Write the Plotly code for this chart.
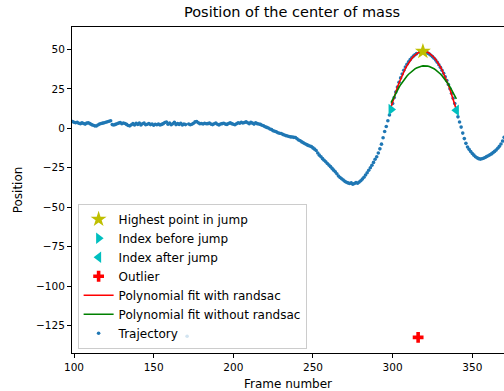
import numpy as np
import plotly.graph_objects as go

# ---- data -------------------------------------------------------------
frames = list(range(99, 371))
positions = [
    # 99-108
    4.4, 3.9, 3.6, 3.8, 3.2, 3.0, 3.5, 3.1, 2.7, 3.3,
    # 109-118
    3.6, 3.0, 2.4, 2.0, 1.6, 1.5, 2.1, 2.7, 3.1, 3.3,
    # 119-128
    3.6, 3.9, 4.2, 4.5, 4.8, 2.4, 2.1, 2.5, 2.9, 3.3,
    # 129-138
    3.7, 3.0, 3.4, 3.1, 2.5, 1.8, 1.6, 2.3, 3.0, 2.2,
    # 139-148
    3.2, 2.5, 3.4, 2.2, 2.9, 3.3, 2.3, 2.6, 3.1, 2.4,
    # 149-158
    2.8, 2.0, 2.6, 2.3, 2.7, 2.2, 2.5, 3.0, 3.7, 4.0,
    # 159-168
    2.6, 3.3, 2.3, 2.9, 3.8, 2.4, 3.0, 2.5, 3.2, 2.2,
    # 169-178
    2.7, 2.4, -131.9, 2.8, 2.3, 2.6, 3.2, 4.1, 4.4, 3.6,
    # 179-188
    3.0, 3.1, 2.8, 3.2, 2.9, 3.0, 3.3, 2.7, 2.4, 2.9,
    # 189-198
    3.4, 2.6, 2.2, 2.8, 3.0, 3.2, 2.7, 2.5, 3.1, 3.5,
    # 199-208
    3.0, 2.6, 2.3, 2.9, 3.6, 3.2, 3.9, 3.4, 3.7, 4.1,
    # 209-216
    3.6, 3.0, 3.8, 3.3, 2.7, 3.5, 3.0, 2.8,
    # 217-226
    2.5, 2.0, 1.6, 1.0, 0.6, 0.2, -0.4, -0.8, -1.5, -1.8,
    # 227-236
    -2.2, -2.8, -3.1, -3.3, -3.8, -4.2, -4.6, -4.8, -5.2, -5.4,
    # 237-246
    -5.5, -5.7, -5.8, -6.6, -7.4, -7.9, -8.6, -9.2, -9.8, -10.3,
    # 247-256
    -10.8, -11.2, -11.6, -12.4, -13.2, -14.0, -15.6, -17.0, -18.0, -19.2,
    # 257-266
    -20.2, -21.2, -22.3, -23.3, -24.3, -25.4, -26.5, -27.6, -28.8, -30.2,
    # 267-276
    -31.2, -32.0, -32.8, -33.6, -34.2, -34.6, -35.0, -34.6, -35.4, -35.0,
    # 277-286
    -34.4, -34.8, -34.0, -33.2, -32.2, -31.0, -29.6, -28.2, -26.6, -25.0,
    # 287-299
    -23.4, -21.6, -19.6, -18.0, -15.6, -13.0, -10.0, -6.0, -2.0, 1.2, 4.8, 8.5, 12.0,
    # 300-309
    15.8, 19.5, 23.0, 26.2, 29.2, 32.0, 34.5, 36.8, 38.9, 40.7,
    # 310-319
    42.2, 43.6, 44.8, 45.8, 46.7, 47.4, -132.6, 48.2, 48.5, 48.8,
    # 320-329
    48.5, 48.2, 47.7, 47.1, 46.4, 45.5, 44.5, 43.3, 41.9, 40.4,
    # 330-340
    38.7, 36.9, 34.9, 32.7, 30.3, 27.8, 25.1, 22.2, 19.1, 15.8, 11.5,
    # 341-350
    7.3, 4.0, 0.8, -3.0, -6.5, -9.5, -11.8, -13.3, -14.7, -15.9,
    # 351-360
    -17.0, -18.0, -18.7, -19.2, -19.5, -19.3, -19.0, -18.5, -17.9, -17.4,
    # 361-370
    -16.8, -16.2, -15.4, -14.6, -13.7, -12.6, -11.4, -9.9, -8.0, -5.7,
]
jump_start = 299      # index before jump
jump_end = 340        # index after jump
outlier_frame = 316

x_ticks = [100, 150, 200, 250, 300, 350]
y_ticks = [-125, -100, -75, -50, -25, 0, 25, 50]

# ---- derived ---------------------------------------------------------
fr = np.array(frames, dtype=float)
pos = np.array(positions, dtype=float)
in_jump = (fr >= jump_start) & (fr <= jump_end)
jx, jy = fr[in_jump], pos[in_jump]
inliers = jx != outlier_frame

coef_ransac = np.polyfit(jx[inliers], jy[inliers], 2)
coef_plain = np.polyfit(jx, jy, 2)
fit_ransac = np.polyval(coef_ransac, jx)
fit_plain = np.polyval(coef_plain, jx)

jy_in = np.where(inliers, jy, -np.inf)
peak_i = int(np.argmax(jy_in))
peak_x, peak_y = jx[peak_i], jy[peak_i]
start_y = pos[fr == jump_start][0]
end_y = pos[fr == jump_end][0]
out_y = pos[fr == outlier_frame][0]

FONT = "DejaVu Sans"
fig = go.Figure()

fig.add_trace(go.Scatter(
    x=frames, y=positions, mode="markers", name="Trajectory",
    marker=dict(size=3.6, color="#1f77b4", line=dict(width=0)),
    legendrank=7))
fig.add_trace(go.Scatter(
    x=jx, y=fit_ransac, mode="lines", name="Polynomial fit with randsac",
    line=dict(color="#ff0000", width=1.6), legendrank=5))
fig.add_trace(go.Scatter(
    x=jx, y=fit_plain, mode="lines", name="Polynomial fit without randsac",
    line=dict(color="#008000", width=1.6), legendrank=6))
fig.add_trace(go.Scatter(
    x=[peak_x], y=[peak_y], mode="markers", name="Highest point in jump",
    marker=dict(symbol="star", size=12, color="#bfbf00", line=dict(width=0)),
    legendrank=1))
fig.add_trace(go.Scatter(
    x=[jump_start], y=[start_y], mode="markers", name="Index before jump",
    marker=dict(symbol="triangle-right", size=10, color="#00bfbf", line=dict(width=0)),
    legendrank=2))
fig.add_trace(go.Scatter(
    x=[jump_end], y=[end_y], mode="markers", name="Index after jump",
    marker=dict(symbol="triangle-left", size=10, color="#00bfbf", line=dict(width=0)),
    legendrank=3))
fig.add_trace(go.Scatter(
    x=[outlier_frame], y=[out_y], mode="markers", name="Outlier",
    marker=dict(symbol="cross", size=9, color="#ff0000", line=dict(width=0)),
    legendrank=4))

fig.update_layout(
    width=504, height=391,
    margin=dict(l=72, r=0, t=27, b=38),
    paper_bgcolor="white", plot_bgcolor="white",
    font=dict(family=FONT, size=11, color="black"),
    title=dict(text="Position of the center of mass", x=292 / 504, xref="container",
               xanchor="center", y=1 - 12 / 391, yref="container", yanchor="middle",
               font=dict(family=FONT, size=14.5, color="black")),
    showlegend=True,
    legend=dict(x=0.013, y=0.013, xanchor="left", yanchor="bottom",
                bgcolor="rgba(255,255,255,0.8)", bordercolor="#cccccc", borderwidth=1,
                font=dict(family=FONT, size=12, color="black"),
                traceorder="normal", itemsizing="trace"),
)
fig.update_xaxes(
    range=[98.74, 369.9], tickvals=x_ticks, ticktext=[str(v) for v in x_ticks],
    showgrid=False, zeroline=False, showline=True, linecolor="black", linewidth=1,
    mirror=True, ticks="outside", ticklen=4, tickcolor="black", automargin=False,
    tickfont=dict(family=FONT, size=10.5, color="black"),
    title=dict(text="Frame number", font=dict(family=FONT, size=12, color="black"),
               standoff=8),
)
fig.update_yaxes(
    range=[-142.5, 64.3], tickvals=y_ticks,
    ticktext=[("\u2212" + str(-v)) if v < 0 else str(v) for v in y_ticks],
    showgrid=False, zeroline=False, showline=True, linecolor="black", linewidth=1,
    mirror=False, ticks="outside", ticklen=4, tickcolor="black", automargin=False,
    tickfont=dict(family=FONT, size=10.5, color="black"),
    title=dict(text="Position", font=dict(family=FONT, size=12, color="black"),
               standoff=10),
)

fig.write_html("out.html", config={"displayModeBar": False},
               post_script="document.body.style.margin='0px';document.body.style.overflow='hidden';")
